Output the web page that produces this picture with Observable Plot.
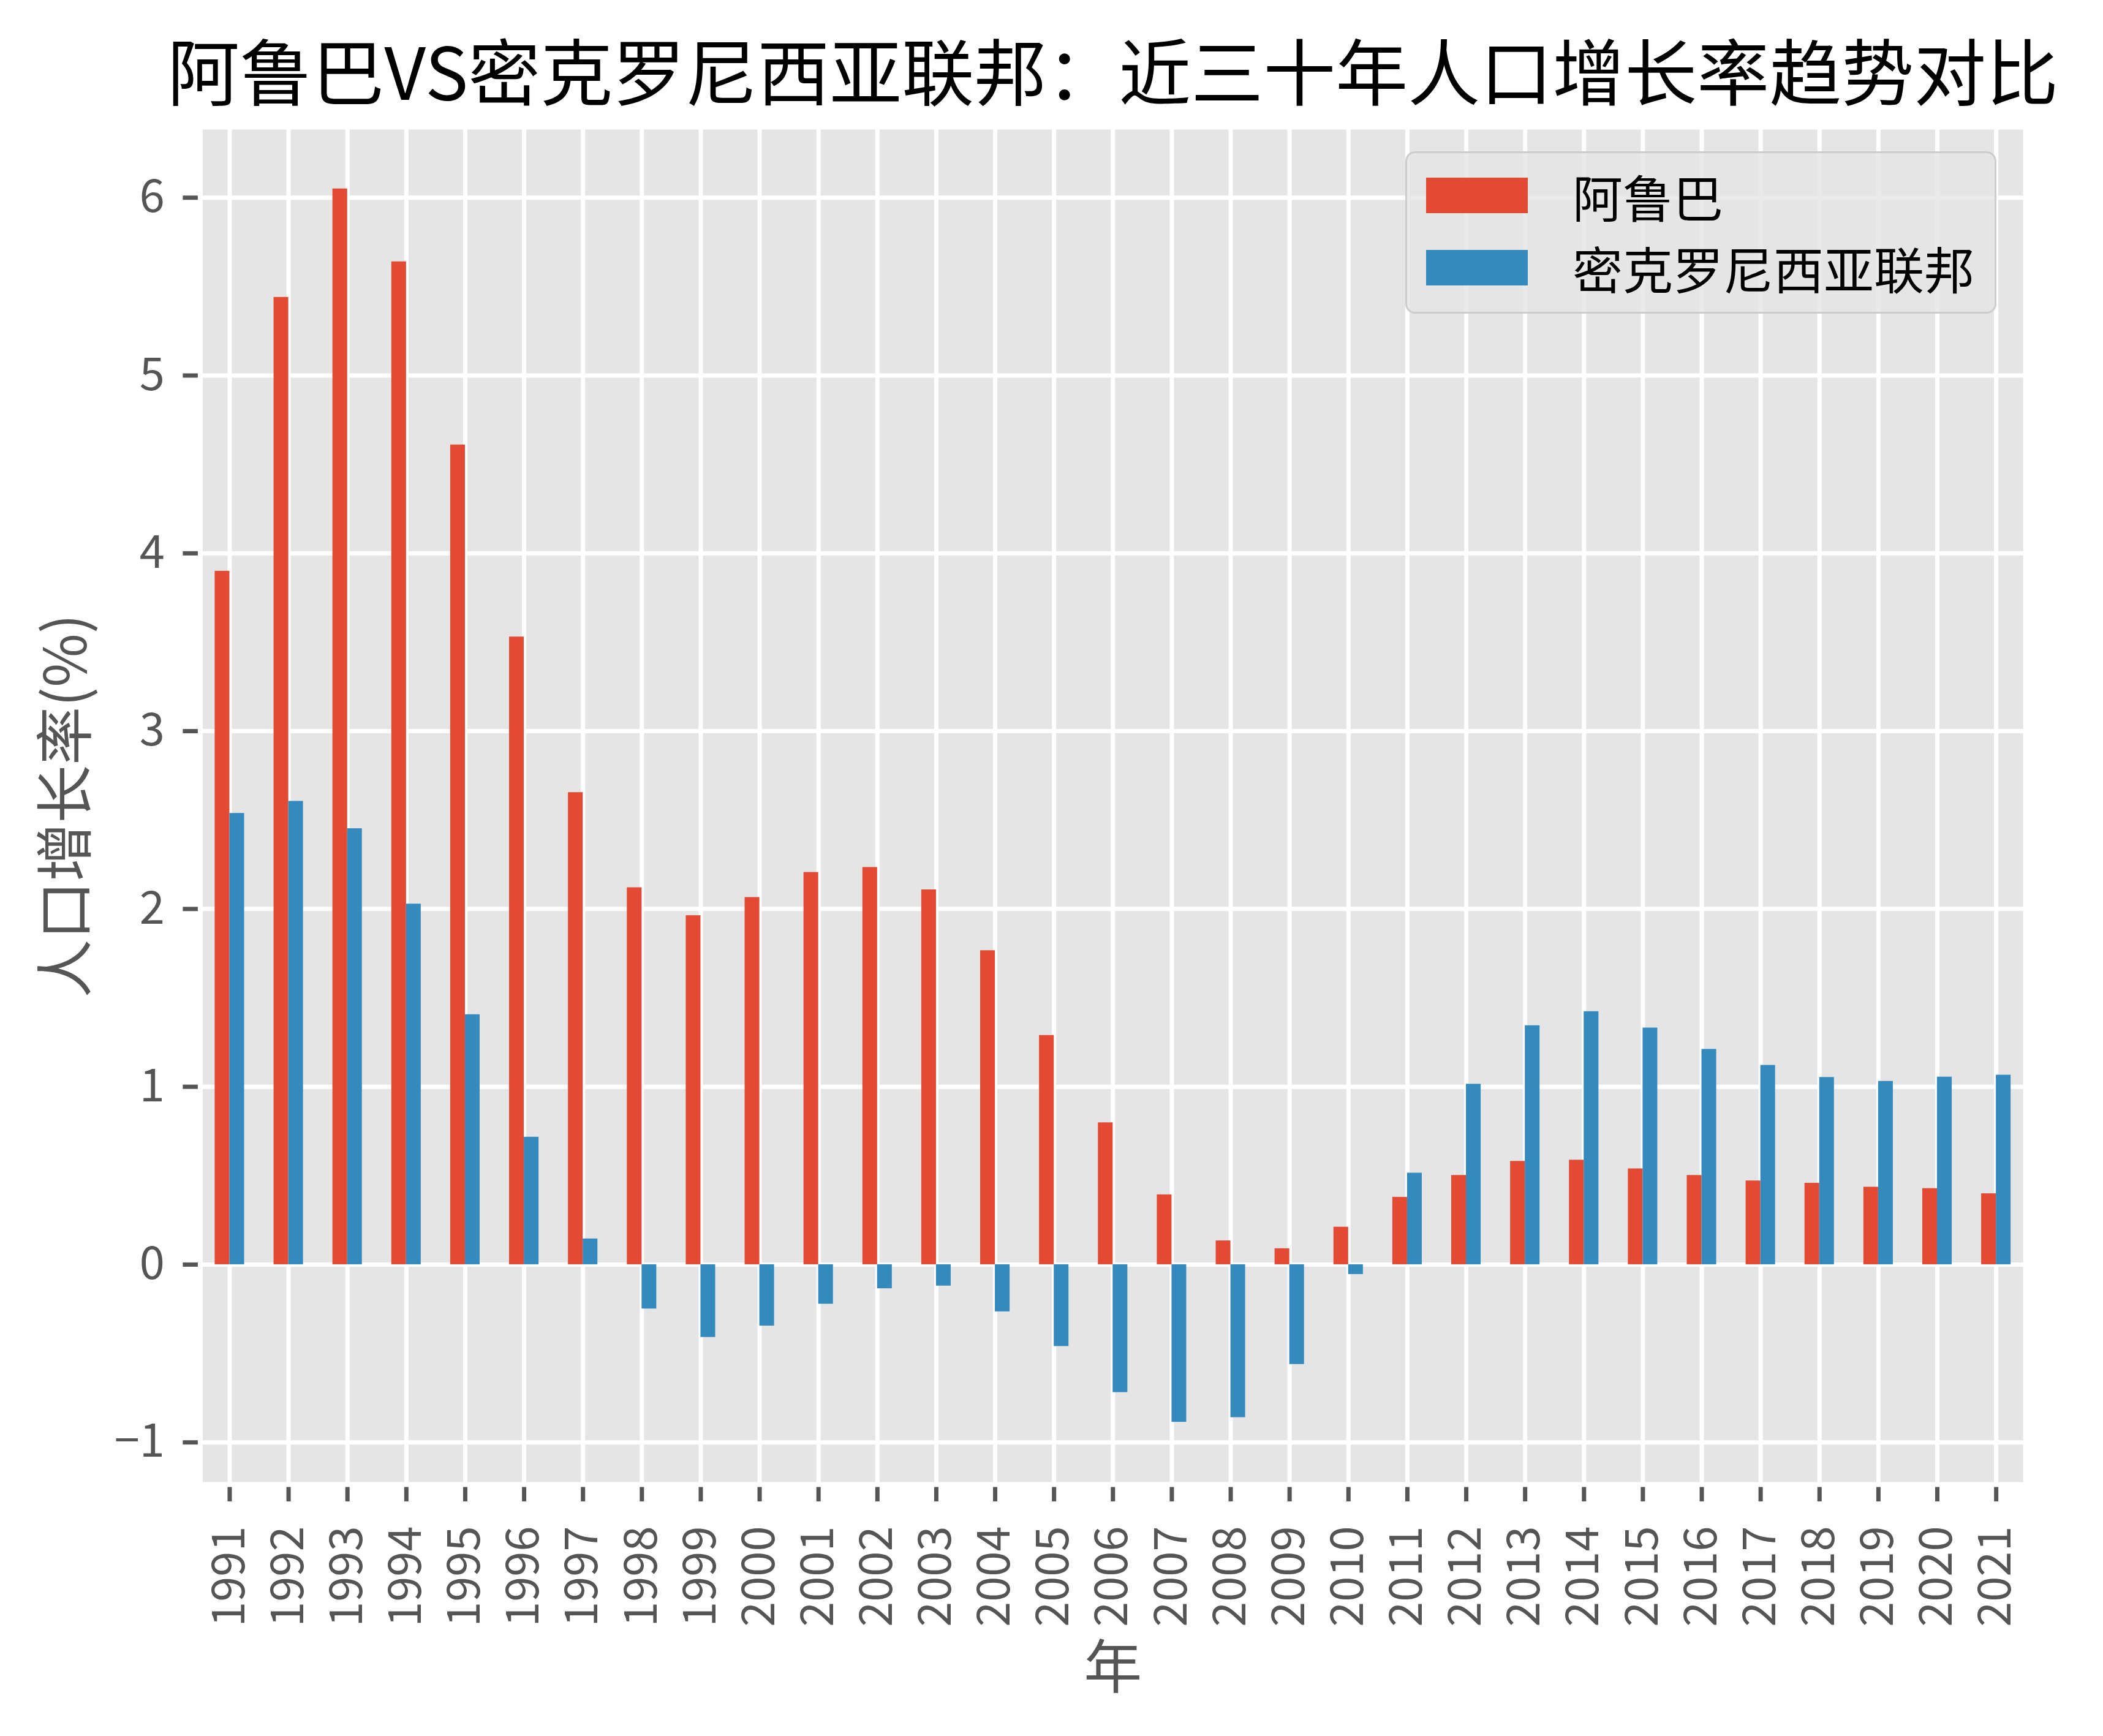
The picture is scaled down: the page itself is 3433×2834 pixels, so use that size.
<!DOCTYPE html>
<html>
<head>
<meta charset="utf-8">
<script src="https://cdn.jsdelivr.net/npm/d3@7"></script>
<script src="https://cdn.jsdelivr.net/npm/@observablehq/plot@0.6"></script>
<style>
  html, body { margin: 0; padding: 0; background: #ffffff; }
  #page { position: relative; width: 3433px; height: 2834px; font-family: "Noto Sans CJK SC", sans-serif; }
  #chart { position: absolute; left: 0; top: 0; }
  .legend-box { position: absolute; box-sizing: border-box; background: rgba(229,229,229,0.8); border: 3px solid #cccccc; border-radius: 16px; }
  .sw { position: absolute; }
  .lt { position: absolute; font-size: 82px; color: #000; line-height: 1; white-space: nowrap; }
</style>
</head>
<body>
<div id="page">
  <div id="chart"></div>
  <div id="legend"></div>
</div>
<script>
// ---- data ----
const years = [1991, 1992, 1993, 1994, 1995, 1996, 1997, 1998, 1999, 2000,
               2001, 2002, 2003, 2004, 2005, 2006, 2007, 2008, 2009, 2010,
               2011, 2012, 2013, 2014, 2015, 2016, 2017, 2018, 2019, 2020, 2021];
const aruba = [3.90, 5.44, 6.05, 5.64, 4.61, 3.53, 2.655, 2.12, 1.963, 2.065,
               2.206, 2.234, 2.108, 1.766, 1.289, 0.798, 0.393, 0.134, 0.09, 0.211,
               0.379, 0.502, 0.581, 0.588, 0.539, 0.502, 0.471, 0.458, 0.436, 0.428, 0.399];
const micronesia = [2.538, 2.606, 2.452, 2.028, 1.406, 0.717, 0.145, -0.249, -0.409, -0.345,
               -0.222, -0.135, -0.12, -0.265, -0.46, -0.719, -0.886, -0.86, -0.561, -0.055,
               0.515, 1.015, 1.344, 1.423, 1.331, 1.211, 1.121, 1.053, 1.031, 1.055, 1.066];
const seriesNames = ["阿鲁巴", "密克罗尼西亚联邦"];
const seriesColors = ["#E24A33", "#348ABD"];
const yTicks = [-1, 0, 1, 2, 3, 4, 5, 6];
const titleText = "阿鲁巴VS密克罗尼西亚联邦：近三十年人口增长率趋势对比";
const xLabel = "年";
const yLabel = "人口增长率(%)";

// ---- build table ----
const barW = 0.25;
const rows = [];
years.forEach((yr, i) => {
  rows.push({series: seriesNames[0], x1: i - barW, x2: i, v: aruba[i]});
  rows.push({series: seriesNames[1], x1: i, x2: i + barW, v: micronesia[i]});
});
const idx = years.map((_, i) => i);

const W = 3433, H = 2834;
const fL = 326.4, fR = 3306.2, fT = 207, fB = 2423;
const tickColor = "#555555";
const fmtY = d => (d < 0 ? "\u2212" + Math.abs(d) : String(d));

const chart = Plot.plot({
  width: W, height: H,
  marginLeft: fL, marginRight: W - fR, marginTop: fT, marginBottom: H - fB,
  x: {type: "linear", domain: [-0.5, 30.5]},
  y: {domain: [-1.237, 6.397]},
  color: {domain: seriesNames, range: seriesColors},
  style: {fontFamily: "Noto Sans CJK SC, sans-serif", background: "transparent", overflow: "visible"},
  marks: [
    Plot.frame({fill: "#E5E5E5"}),
    Plot.gridX(idx, {stroke: "white", strokeOpacity: 1, strokeWidth: 7}),
    Plot.gridY(yTicks, {stroke: "white", strokeOpacity: 1, strokeWidth: 7}),
    Plot.rectY(rows, {x1: "x1", x2: "x2", y1: 0, y2: "v", fill: "series"}),
    Plot.axisX(idx, {tickSize: 28, tickPadding: 40, tickRotate: -90, tickFormat: i => String(years[i]),
                     fontSize: 74, color: tickColor, strokeWidth: 7, label: null}),
    Plot.axisY(yTicks, {tickSize: 28, tickPadding: 30, tickFormat: fmtY, fontSize: 74, color: tickColor, strokeWidth: 7, label: null}),
    Plot.frame({stroke: "white", strokeWidth: 8}),
    Plot.text([titleText], {frameAnchor: "top", dy: -82, lineAnchor: "middle", textAnchor: "middle", fontSize: 118, fill: "#000000"}),
    Plot.text([xLabel], {frameAnchor: "bottom", dy: 302, lineAnchor: "middle", textAnchor: "middle", fontSize: 95, fill: tickColor}),
    Plot.text([yLabel], {frameAnchor: "left", dx: -216, rotate: -90, lineAnchor: "middle", textAnchor: "middle", fontSize: 95, fill: tickColor})
  ]
});
document.getElementById("chart").appendChild(chart);

// ---- legend (overlay inside the axes, upper right) ----
const leg = document.getElementById("legend");
const box = document.createElement("div");
box.className = "legend-box";
Object.assign(box.style, {left: "2294px", top: "247px", width: "965px", height: "265px"});
leg.appendChild(box);
const swTop = [290, 408];
const txtMid = [320, 437];
seriesNames.forEach((name, k) => {
  const sw = document.createElement("div");
  sw.className = "sw";
  Object.assign(sw.style, {left: "2328px", top: swTop[k] + "px", width: "166px", height: "58px", background: seriesColors[k]});
  leg.appendChild(sw);
  const t = document.createElement("div");
  t.className = "lt";
  t.textContent = name;
  Object.assign(t.style, {left: "2567px", top: (txtMid[k] - 41) + "px", height: "82px", display: "flex", alignItems: "center"});
  leg.appendChild(t);
});
</script>
</body>
</html>
